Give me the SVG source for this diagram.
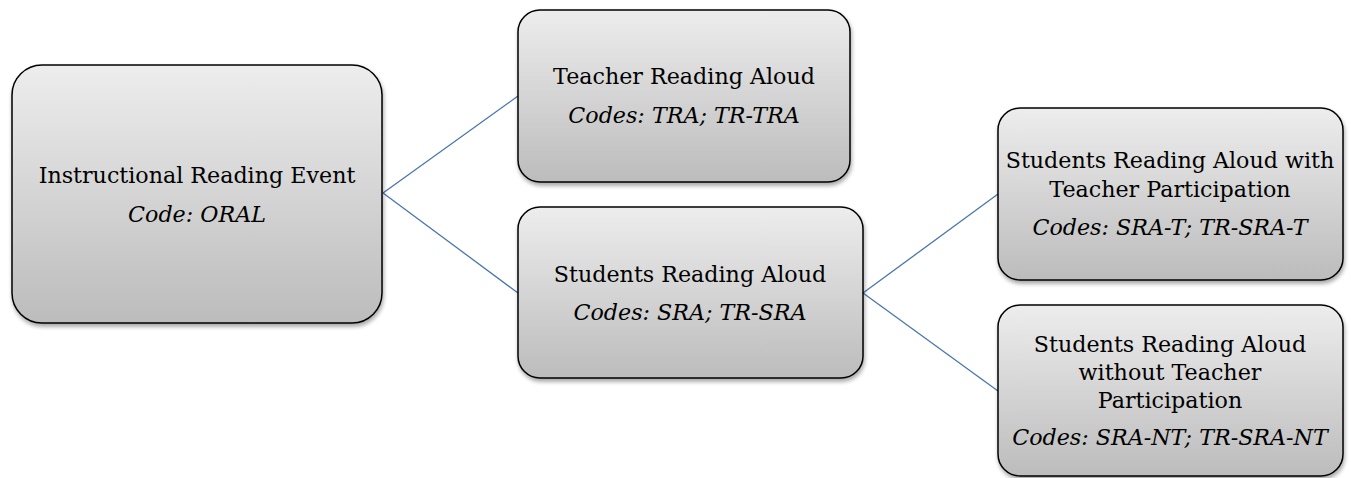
<svg xmlns="http://www.w3.org/2000/svg" width="1351" height="478" viewBox="0 0 1351 478">
<defs>
<linearGradient id="g" x1="0" y1="0" x2="0" y2="1">
<stop offset="0" stop-color="#ededed"/>
<stop offset="1" stop-color="#bcbcbc"/>
</linearGradient>
<filter id="sh" x="-10%" y="-10%" width="120%" height="125%">
<feGaussianBlur in="SourceAlpha" stdDeviation="2"/>
<feOffset dx="1" dy="3" result="b"/>
<feComponentTransfer><feFuncA type="linear" slope="0.35"/></feComponentTransfer>
<feMerge><feMergeNode/><feMergeNode in="SourceGraphic"/></feMerge>
</filter>
</defs>
<style>
.box{fill:url(#g);stroke:#000;stroke-width:1.5;filter:url(#sh)}
.t{font-family:"DejaVu Serif","Liberation Serif",serif;font-size:22.2px;fill:#000;text-anchor:middle}
.i{font-style:italic}
.c{stroke:#4a76ad;stroke-width:1.3;fill:none}
</style>
<g id="connectors">
<line class="c" x1="383" y1="193" x2="518" y2="96"/>
<line class="c" x1="383" y1="193" x2="518" y2="293"/>
<line class="c" x1="863" y1="293" x2="998" y2="194"/>
<line class="c" x1="863" y1="293" x2="998" y2="391"/>
</g>
<g id="n1">
<rect class="box" x="12" y="65" width="370" height="258" rx="30"/>
<text class="t" x="197" y="183">Instructional Reading Event</text>
<text class="t i" x="197" y="222">Code: ORAL</text>
</g>
<g id="n2">
<rect class="box" x="518" y="10" width="332" height="172" rx="22"/>
<text class="t" x="684" y="84">Teacher Reading Aloud</text>
<text class="t i" x="684" y="123">Codes: TRA; TR-TRA</text>
</g>
<g id="n3">
<rect class="box" x="518" y="207" width="345" height="171" rx="22"/>
<text class="t" x="690" y="282">Students Reading Aloud</text>
<text class="t i" x="690" y="320">Codes: SRA; TR-SRA</text>
</g>
<g id="n4">
<rect class="box" x="998" y="108" width="345" height="172" rx="22"/>
<text class="t" x="1170" y="168">Students Reading Aloud with</text>
<text class="t" x="1170" y="197">Teacher Participation</text>
<text class="t i" x="1170" y="235">Codes: SRA-T; TR-SRA-T</text>
</g>
<g id="n5">
<rect class="box" x="998" y="305" width="345" height="171" rx="22"/>
<text class="t" x="1170" y="352">Students Reading Aloud</text>
<text class="t" x="1170" y="380">without Teacher</text>
<text class="t" x="1170" y="408">Participation</text>
<text class="t i" x="1170" y="445">Codes: SRA-NT; TR-SRA-NT</text>
</g>
</svg>
